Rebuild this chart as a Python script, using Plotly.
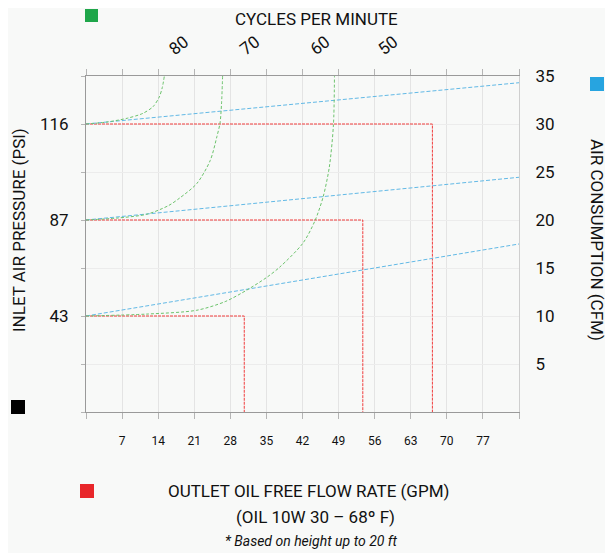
import plotly.graph_objects as go

# ---------------- data ----------------
gpm_ticks = [7, 14, 21, 28, 35, 42, 49, 56, 63, 70, 77]
cfm_ticks = [5, 10, 15, 20, 25, 30, 35]
psi_levels = ["43", "87", "116"]
psi_cfm_pos = [10, 20, 30]          # CFM at which each inlet pressure starts

# outlet oil flow (GPM) reached at each pressure
flow_gpm = [30.7, 53.7, 67.2]

# air consumption lines (GPM -> CFM)
air_x = [0, 84]
air_43 = [10, 17.5]
air_87 = [20, 24.45]
air_116 = [30, 34.3]

# cycles-per-minute curves
cpm80_x = [0, 4, 8, 11, 13, 14.2, 14.8, 15.2]
cpm80_y = [30, 30.2, 30.6, 31.1, 31.8, 32.8, 33.8, 35]
cpm70_x = [0, 6, 11.8, 16, 18.2, 21.5, 24.1, 25.4, 26.0, 26.3, 26.5]
cpm70_y = [20, 20.2, 20.6, 21.5, 22.3, 23.8, 26.2, 28.7, 30.1, 32.2, 35]
cpm60_x = [0, 11.8, 21.5, 27, 31.2, 35, 37.6, 42.1, 44.4, 46.0, 47.2, 48.0, 48.2]
cpm60_y = [10, 10.2, 10.6, 11.5, 12.7, 14.0, 15.1, 17.6, 19.9, 22.4, 25.5, 29.9, 35]

cpm_labels = ["80", "70", "60", "50"]
cpm_label_pos = [16.2, 30.0, 43.6, 56.8]

# ---------------- styling ----------------
FONT = "Roboto, Liberation Sans, sans-serif"
RED = "#f03c3c"
BLUE = "#62b9e6"
GREEN = "#6cc36c"
BG = "#f8f9f8"

fig = go.Figure()

# red flow lines
for lvl, g in zip(psi_cfm_pos, flow_gpm):
    fig.add_trace(go.Scatter(x=[0, g, g], y=[lvl, lvl, 0], mode="lines",
                             line=dict(color=RED, width=1, dash="3px,1px"),
                             xaxis="x", yaxis="y", hoverinfo="skip", showlegend=False))

# blue air-consumption lines
for ys in (air_43, air_87, air_116):
    fig.add_trace(go.Scatter(x=air_x, y=ys, mode="lines",
                             line=dict(color=BLUE, width=1, dash="4px,2px"),
                             xaxis="x", yaxis="y2", hoverinfo="skip", showlegend=False))

# green cycles curves
for cx, cy in ((cpm80_x, cpm80_y), (cpm70_x, cpm70_y), (cpm60_x, cpm60_y)):
    fig.add_trace(go.Scatter(x=cx, y=cy, mode="lines",
                             line=dict(color=GREEN, width=1, dash="3px,2px", shape="spline", smoothing=0.8),
                             xaxis="x2", yaxis="y", hoverinfo="skip", showlegend=False))

left_vals = list(range(0, 36, 5))
left_text = [psi_levels[psi_cfm_pos.index(v)] if v in psi_cfm_pos else "" for v in left_vals]
bottom_vals = [0] + gpm_ticks + [84]
bottom_text = [""] + [str(v) for v in gpm_ticks] + [""]

# the page body has an 8px margin, so the figure is drawn 8px smaller
fig.update_layout(
    width=605, height=545,
    margin=dict(l=78, r=94, t=68, b=141),
    paper_bgcolor=BG, plot_bgcolor=BG,
    font=dict(family=FONT, color="#111"),
    xaxis=dict(range=[0, 84], tickvals=bottom_vals, ticktext=bottom_text,
               showgrid=True, gridcolor="#e4e4e4", gridwidth=1,
               showline=True, linecolor="#9a9a9a", linewidth=1, mirror="ticks",
               ticks="outside", ticklen=6, tickcolor="#b5b5b5",
               tickfont=dict(size=12, family=FONT), ticklabelstandoff=12,
               zeroline=False, fixedrange=True),
    xaxis2=dict(range=[0, 84], overlaying="x", side="top", anchor="y",
                tickvals=cpm_label_pos, ticktext=cpm_labels, tickangle=-38,
                ticks="", showgrid=False, showline=False, zeroline=False,
                tickfont=dict(size=17, family=FONT), ticklabelstandoff=14),
    yaxis=dict(range=[0, 35], tickvals=left_vals, ticktext=left_text,
               showgrid=True, gridcolor="#ececec", gridwidth=1,
               showline=True, linecolor="#9a9a9a", linewidth=1,
               ticks="outside", ticklen=4, tickcolor="#b5b5b5",
               tickfont=dict(size=17, family=FONT), ticklabelstandoff=9,
               zeroline=False),
    yaxis2=dict(range=[0, 35], overlaying="y", side="right", anchor="x",
                tickvals=cfm_ticks, showgrid=False, showline=True,
                linecolor="#cfcfcf", linewidth=1, ticks="",
                tickfont=dict(size=17, family=FONT), ticklabelstandoff=12,
                zeroline=False),
)

def px2paper(px, py):
    return (px - 86) / 433.0, (412 - py) / 336.0

annots = []
def add_text(text, px, py, size, angle=0, italic=False):
    x, y = px2paper(px, py)
    t = f"<i>{text}</i>" if italic else text
    annots.append(dict(text=t, x=x, y=y, xref="paper", yref="paper", showarrow=False,
                       textangle=angle, xanchor="center", yanchor="middle",
                       font=dict(size=size, family=FONT, color="#111")))

add_text("CYCLES PER MINUTE", 316, 19, 17)
add_text("INLET AIR PRESSURE (PSI)", 19, 230, 17, angle=-90)
add_text("AIR CONSUMPTION (CFM)", 597, 240, 17, angle=90)
add_text("OUTLET OIL FREE FLOW RATE (GPM)", 308, 491, 17)
add_text("(OIL 10W 30 – 68º F)", 315, 517, 17)
add_text("* Based on height up to 20 ft", 311, 541, 14, italic=True)
fig.update_layout(annotations=annots)

shapes = []
def square(px0, py0, px1, py1, color):
    x0, y0 = px2paper(px0, py0)
    x1, y1 = px2paper(px1, py1)
    shapes.append(dict(type="rect", xref="paper", yref="paper", x0=x0, x1=x1, y0=y1, y1=y0,
                       fillcolor=color, line=dict(width=0)))

square(85, 9, 98, 22, "#1fa64a")
square(590, 77, 604, 91, "#27a4e0")
square(11, 400, 25, 414, "#000000")
square(80, 484, 94, 498, "#e8262a")
fig.update_layout(shapes=shapes)

fig.write_html("out.html")
